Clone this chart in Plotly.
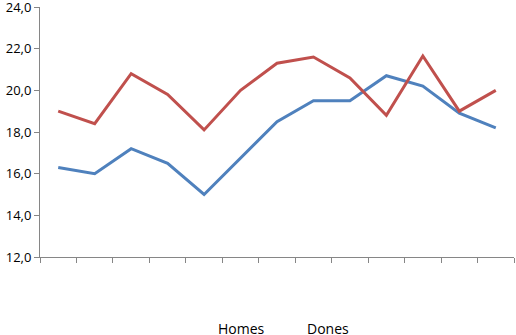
import plotly.graph_objects as go

categories = list(range(1, 14))
homes = [19.0, 18.4, 20.8, 19.8, 18.1, 20.0, 21.3, 21.6, 20.6, 18.8, 21.65, 19.0, 20.0]
dones = [16.3, 16.0, 17.2, 16.5, 15.0, 16.75, 18.5, 19.5, 19.5, 20.7, 20.2, 18.9, 18.2]
series_names = ["Homes", "Dones"]
y_ticks = [12, 14, 16, 18, 20, 22, 24]

fig = go.Figure()
fig.add_trace(go.Scatter(x=categories, y=dones, mode="lines", name=series_names[1],
                         line=dict(color="#4F81BD", width=3), showlegend=False))
fig.add_trace(go.Scatter(x=categories, y=homes, mode="lines", name=series_names[0],
                         line=dict(color="#C0504D", width=3), showlegend=False))

font = dict(family="Open Sans", size=13, color="#000000")
legfont = dict(family="Open Sans", size=14, color="#000000")
fig.update_layout(
    width=516, height=335,
    margin=dict(l=40, r=2, t=7, b=78),
    paper_bgcolor="white", plot_bgcolor="white",
    separators=", ",
    font=font,
    xaxis=dict(range=[0.5, 13.5], tickvals=[c - 0.5 for c in categories] + [13.5],
               showticklabels=False, ticks="outside", ticklen=5, tickcolor="#868686",
               showline=True, linecolor="#868686", linewidth=1, showgrid=False, zeroline=False,
               automargin=False),
    yaxis=dict(range=[12, 24], tickvals=y_ticks, tickformat=".1f",
               ticks="outside", ticklen=5, tickcolor="#868686", ticklabeloverflow="allow",
               showline=True, linecolor="#868686", linewidth=1, showgrid=False, zeroline=False,
               tickfont=font, automargin=False),
)
pw = 516 - 40 - 2
ph = 335 - 7 - 78
def px(xp):
    return (xp - 40) / pw
def py(yp):
    return (335 - 78 - yp) / ph
fig.add_annotation(text=series_names[0], x=px(216), y=py(328.5), xref="paper", yref="paper",
                   xanchor="left", yanchor="middle", showarrow=False, font=legfont)
fig.add_annotation(text=series_names[1], x=px(305), y=py(328.5), xref="paper", yref="paper",
                   xanchor="left", yanchor="middle", showarrow=False, font=legfont)

fig.write_html("out.html")
